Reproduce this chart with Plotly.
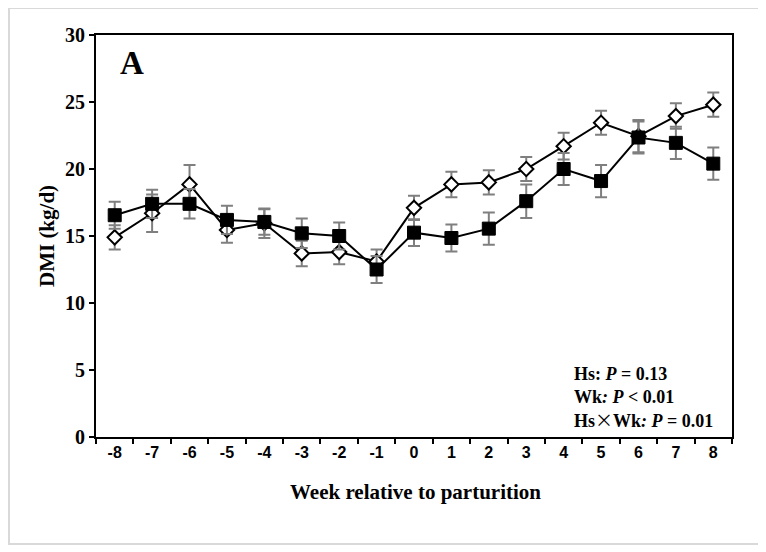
import plotly.graph_objects as go

weeks = ["-8", "-7", "-6", "-5", "-4", "-3", "-2", "-1", "0", "1", "2", "3", "4", "5", "6", "7", "8"]

# Open diamond series
diamond_mean = [14.9, 16.7, 18.85, 15.45, 15.95, 13.7, 13.8, 13.1, 17.1, 18.85, 19.0, 20.0, 21.7, 23.45, 22.45, 23.95, 24.8]
diamond_se = [0.9, 1.4, 1.45, 0.95, 1.1, 0.95, 0.9, 0.9, 0.9, 0.95, 0.9, 0.9, 1.0, 0.9, 1.2, 0.95, 0.9]

# Filled square series
square_mean = [16.55, 17.4, 17.4, 16.2, 16.05, 15.2, 15.0, 12.5, 15.25, 14.85, 15.55, 17.6, 20.0, 19.1, 22.35, 21.95, 20.4]
square_se = [1.0, 1.05, 1.1, 1.05, 0.95, 1.1, 1.0, 1.0, 1.0, 1.0, 1.2, 1.25, 1.2, 1.2, 1.2, 1.2, 1.2]

y_ticks = [0, 5, 10, 15, 20, 25, 30]

SERIF = "Liberation Serif, Times New Roman, serif"
SANS = "Liberation Sans, Arial, sans-serif"

fig = go.Figure()

err_style = dict(type="data", visible=True, color="#7f7f7f", thickness=2, width=6)

fig.add_trace(go.Scatter(
    x=weeks, y=diamond_mean, mode="lines+markers",
    line=dict(color="black", width=2),
    marker=dict(symbol="diamond", size=11, color="white", line=dict(color="black", width=2)),
    error_y=dict(array=diamond_se, **err_style),
    showlegend=False,
))
fig.add_trace(go.Scatter(
    x=weeks, y=square_mean, mode="lines+markers",
    line=dict(color="black", width=2),
    marker=dict(symbol="square", size=13, color="black", line=dict(color="black", width=1)),
    error_y=dict(array=square_se, **err_style),
    showlegend=False,
))

stats_text = ("<b>Hs: <i>P</i> = 0.13<br>Wk<i>: P</i> &lt; 0.01<br>"
              "Hs<span style=\"font-family:'Noto Sans CJK SC'; font-weight:normal\">×</span>Wk<i>: P</i> = 0.01</b>")

fig.update_layout(
    width=758, height=544,
    margin=dict(l=88, r=34, t=27, b=115),
    paper_bgcolor="white", plot_bgcolor="white",
    xaxis=dict(
        type="category", categoryorder="array", categoryarray=weeks,
        range=[-0.5, 16.5],
        showline=True, linecolor="black", linewidth=2, mirror=True,
        ticks="outside", tickson="boundaries", ticklen=5, tickwidth=2, tickcolor="black",
        showgrid=False, zeroline=False,
        tickfont=dict(family=SANS, size=16, color="black", weight="bold"),
    ),
    yaxis=dict(
        range=[0, 30], tickvals=y_ticks,
        showline=True, linecolor="black", linewidth=2, mirror=True,
        ticks="outside", ticklen=5, tickwidth=2, tickcolor="black",
        showgrid=False, zeroline=False,
        tickfont=dict(family=SERIF, size=20, color="black", weight="bold"),
    ),
    annotations=[
        dict(text="<b>A</b>", x=0.0566, y=0.930, xref="paper", yref="paper",
             showarrow=False, xanchor="center", yanchor="middle",
             font=dict(family=SERIF, size=33, color="black")),
        dict(text="<b>Week relative to parturition</b>", x=0.5016, y=-0.137,
             xref="paper", yref="paper", showarrow=False, xanchor="center", yanchor="middle",
             font=dict(family=SERIF, size=21, color="black")),
        dict(text="<b>DMI (kg/d)</b>", x=-0.077, y=0.5, textangle=-90,
             xref="paper", yref="paper", showarrow=False, xanchor="center", yanchor="middle",
             font=dict(family=SERIF, size=21, color="black")),
        dict(text=stats_text,
             x=0.748, y=0.097, xref="paper", yref="paper", showarrow=False,
             xanchor="left", yanchor="middle", align="left",
             font=dict(family=SERIF, size=18, color="black")),
    ],
    shapes=[
        dict(type="rect", xref="paper", yref="paper",
             x0=-0.1368, x1=1.044, y0=-0.266, y1=1.067,
             line=dict(color="#d9d9d9", width=2), fillcolor="rgba(0,0,0,0)", layer="below"),
    ],
)

fig.write_html("out.html")
